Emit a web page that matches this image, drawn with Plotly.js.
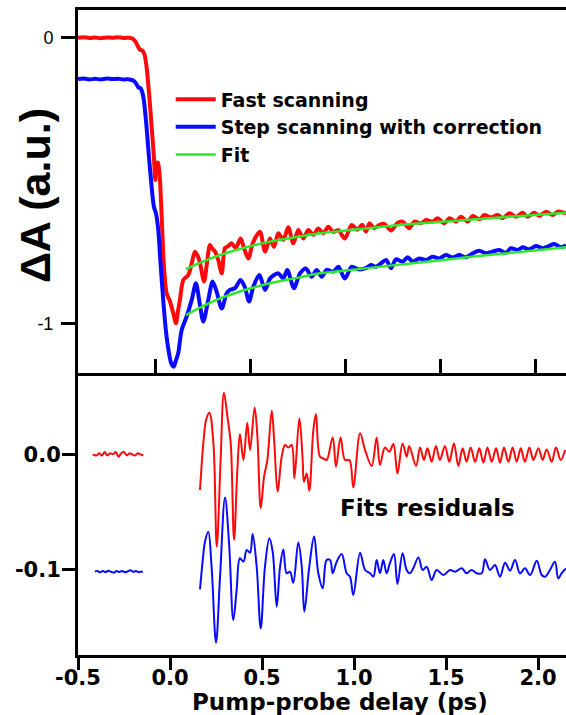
<!DOCTYPE html>
<html>
<head>
<meta charset="utf-8">
<script src="https://cdn.plot.ly/plotly-3.0.1.min.js"></script>
<style>html,body{margin:0;padding:0;background:#fff;}</style>
</head>
<body>
<div id="chart" style="width:566px;height:715px;"></div>
<script>
// ---------- Top panel: transient absorption (top-axis time, ps) ----------
const fastX = [-0.410,-0.380,-0.350,-0.320,-0.290,-0.260,-0.230,-0.200,-0.170,-0.140,-0.125,-0.110,-0.095,-0.085,-0.075,-0.068,-0.060,-0.050,-0.035,-0.023,-0.011,-0.004,0.003,0.010,0.015,0.021,0.030,0.042,0.056,0.074,0.091,0.105,0.115,0.126,0.144,0.170,0.188,0.205,0.220,0.232,0.253,0.268,0.284,0.298,0.311,0.328,0.346,0.363,0.380,0.398,0.420,0.445,0.465,0.486,0.509,0.547,0.574,0.600,0.621,0.644,0.670,0.696,0.723,0.749,0.775,0.802,0.828,0.854,0.880,0.907,0.933,0.960,0.994,1.030,1.060,1.085,1.105,1.123,1.149,1.175,1.202,1.237,1.272,1.298,1.333,1.360,1.395,1.421,1.456,1.482,1.518,1.544,1.579,1.605,1.640,1.667,1.702,1.728,1.763,1.798,1.825,1.860,1.895,1.930,1.956,1.991,2.018,2.053,2.088,2.114,2.158];
const fastY = [0.000,0.002,-0.001,0.001,-0.002,0.001,0.000,0.002,-0.001,0.000,-0.003,-0.012,-0.030,-0.042,-0.044,-0.048,-0.060,-0.100,-0.207,-0.312,-0.417,-0.498,-0.440,-0.437,-0.455,-0.498,-0.627,-0.802,-0.895,-0.924,-0.965,-1.000,-0.960,-0.918,-0.848,-0.831,-0.790,-0.749,-0.765,-0.790,-0.854,-0.790,-0.726,-0.740,-0.749,-0.779,-0.825,-0.737,-0.730,-0.720,-0.737,-0.703,-0.740,-0.773,-0.720,-0.679,-0.749,-0.703,-0.732,-0.685,-0.708,-0.664,-0.720,-0.673,-0.703,-0.673,-0.690,-0.668,-0.685,-0.662,-0.680,-0.674,-0.703,-0.656,-0.672,-0.655,-0.679,-0.650,-0.667,-0.656,-0.652,-0.675,-0.648,-0.644,-0.667,-0.644,-0.650,-0.638,-0.644,-0.632,-0.650,-0.632,-0.644,-0.627,-0.644,-0.624,-0.636,-0.621,-0.629,-0.621,-0.632,-0.615,-0.627,-0.613,-0.627,-0.613,-0.624,-0.609,-0.621,-0.609,-0.615];

const stepX = [-0.410,-0.380,-0.350,-0.320,-0.290,-0.260,-0.230,-0.200,-0.170,-0.140,-0.120,-0.105,-0.093,-0.081,-0.067,-0.053,-0.037,-0.023,-0.011,0.000,0.012,0.024,0.038,0.052,0.066,0.080,0.093,0.105,0.117,0.135,0.161,0.188,0.210,0.230,0.249,0.275,0.298,0.319,0.346,0.372,0.389,0.416,0.445,0.467,0.490,0.512,0.544,0.574,0.600,0.621,0.644,0.670,0.691,0.726,0.758,0.789,0.819,0.846,0.872,0.898,0.933,0.960,0.994,1.030,1.065,1.105,1.132,1.158,1.184,1.211,1.237,1.263,1.298,1.325,1.351,1.386,1.421,1.456,1.491,1.526,1.561,1.596,1.632,1.667,1.702,1.737,1.772,1.807,1.842,1.868,1.904,1.930,1.965,2.000,2.035,2.070,2.096,2.132,2.158];
const stepY = [-0.145,-0.143,-0.146,-0.144,-0.146,-0.143,-0.145,-0.144,-0.146,-0.146,-0.150,-0.160,-0.174,-0.177,-0.206,-0.288,-0.417,-0.522,-0.592,-0.615,-0.673,-0.790,-0.918,-1.024,-1.094,-1.140,-1.152,-1.130,-1.105,-1.024,-0.977,-0.918,-0.860,-0.930,-0.994,-0.918,-0.854,-0.889,-0.948,-0.895,-0.883,-0.877,-0.848,-0.872,-0.924,-0.872,-0.831,-0.883,-0.843,-0.831,-0.825,-0.843,-0.813,-0.877,-0.825,-0.808,-0.837,-0.813,-0.837,-0.813,-0.819,-0.802,-0.843,-0.802,-0.811,-0.807,-0.796,-0.802,-0.790,-0.778,-0.807,-0.776,-0.784,-0.769,-0.784,-0.773,-0.778,-0.767,-0.773,-0.761,-0.769,-0.761,-0.769,-0.755,-0.746,-0.755,-0.749,-0.743,-0.753,-0.737,-0.743,-0.734,-0.741,-0.729,-0.737,-0.729,-0.722,-0.734,-0.726];

const fitFastX = [0.158,0.250,0.337,0.450,0.600,0.750,0.863,1.000,1.232,1.400,1.632,1.900,2.158];
const fitFastY = [-0.810,-0.783,-0.761,-0.738,-0.714,-0.697,-0.685,-0.675,-0.659,-0.650,-0.638,-0.625,-0.613];
const fitStepX = [0.158,0.250,0.337,0.450,0.600,0.750,0.863,1.000,1.232,1.400,1.632,1.900,2.158];
const fitStepY = [-0.971,-0.939,-0.913,-0.887,-0.860,-0.840,-0.825,-0.815,-0.798,-0.786,-0.769,-0.751,-0.734];

// ---------- Bottom panel: fit residuals (ps) ----------
const resFastX = [-0.420,-0.400,-0.385,-0.370,-0.355,-0.340,-0.325,-0.310,-0.295,-0.280,-0.265,-0.250,-0.235,-0.220,-0.205,-0.190,-0.175,-0.160,-0.145,null,
 0.163,0.181,0.196,0.214,0.236,0.254,0.275,0.293,0.312,0.330,0.348,0.366,0.380,0.399,0.420,0.435,0.460,0.475,0.493,0.511,0.529,0.553,0.567,0.585,0.607,0.625,0.643,0.661,0.676,0.703,0.721,0.728,0.743,0.757,0.779,0.793,0.815,0.833,0.851,0.884,0.902,0.927,0.951,0.975,0.996,1.033,1.060,1.096,1.123,1.141,1.168,1.192,1.214,1.236,1.264,1.286,1.300,1.337,1.359,1.380,1.399,1.422,1.445,1.467,1.494,1.518,1.543,1.567,1.590,1.612,1.634,1.658,1.681,1.703,1.725,1.748,1.772,1.793,1.815,1.839,1.862,1.884,1.906,1.929,1.953,1.975,2.002,2.025,2.047,2.074,2.098,2.123,2.147];
const resFastY = [0.000,-0.001,0.001,-0.001,0.002,-0.001,0.001,0.000,0.002,-0.002,0.001,0.002,-0.001,0.001,0.000,-0.001,0.001,0.000,-0.001,null,
 -0.0309,0.0095,0.0297,0.0361,0.0095,-0.0800,-0.0049,0.0534,0.0326,0.0095,-0.0742,-0.0136,0.0176,-0.0049,0.0274,0.0037,0.0407,0.0153,-0.0468,-0.0194,-0.0049,0.0378,0.0095,-0.0324,-0.0020,0.0081,0.0060,0.0081,-0.0208,0.0312,-0.0049,-0.0237,-0.0165,-0.0315,0.0211,0.0349,-0.0020,-0.0035,-0.0049,0.0147,-0.0107,0.0147,-0.0049,-0.0049,-0.0286,0.0182,0.0037,-0.0101,0.0147,-0.0092,0.0060,0.0023,0.0089,-0.0165,0.0095,-0.0020,0.0072,-0.0101,0.0060,-0.0049,0.0052,-0.0064,0.0072,-0.0049,0.0072,-0.0064,0.0095,-0.0101,0.0052,-0.0064,0.0060,-0.0064,0.0052,-0.0072,0.0060,-0.0064,0.0052,-0.0072,0.0060,-0.0064,0.0060,-0.0064,0.0052,-0.0064,0.0060,-0.0049,0.0052,-0.0049,0.0043,-0.0064,0.0060,-0.0049,0.0037];

const resStepX = [-0.408,-0.395,-0.380,-0.365,-0.350,-0.335,-0.320,-0.305,-0.290,-0.275,-0.260,-0.245,-0.230,-0.215,-0.200,-0.185,-0.170,-0.158,-0.148,null,
 0.163,0.178,0.190,0.208,0.226,0.250,0.272,0.299,0.321,0.344,0.362,0.380,0.399,0.417,0.435,0.449,0.471,0.493,0.516,0.540,0.558,0.580,0.598,0.616,0.634,0.652,0.670,0.697,0.716,0.730,0.757,0.783,0.806,0.830,0.851,0.870,0.884,0.906,0.933,0.960,0.978,0.996,1.033,1.060,1.087,1.105,1.123,1.141,1.159,1.177,1.196,1.217,1.236,1.264,1.286,1.304,1.322,1.350,1.373,1.395,1.422,1.449,1.486,1.522,1.549,1.585,1.612,1.639,1.667,1.694,1.712,1.739,1.766,1.793,1.821,1.848,1.875,1.902,1.929,1.957,1.993,2.020,2.038,2.065,2.092,2.110,2.128,2.152];
const resStepY = [-0.1015,-0.1010,-0.1022,-0.1012,-0.1020,-0.1008,-0.1018,-0.1025,-0.1012,-0.1020,-0.1010,-0.1022,-0.1015,-0.1005,-0.1018,-0.1012,-0.1022,-0.1015,-0.1020,null,
 -0.1170,-0.0916,-0.0757,-0.0670,-0.0974,-0.1632,-0.1060,-0.0373,-0.0771,-0.1436,-0.1176,-0.0901,-0.0930,-0.0829,-0.0852,-0.0691,-0.0974,-0.1508,-0.0974,-0.0728,-0.0844,-0.1320,-0.0974,-0.0824,-0.1031,-0.1017,-0.1112,-0.0765,-0.0974,-0.1363,-0.0974,-0.0713,-0.1031,-0.1161,-0.0916,-0.0916,-0.1031,-0.0930,-0.0864,-0.1031,-0.1060,-0.1219,-0.0852,-0.1002,-0.1031,-0.1060,-0.0916,-0.1031,-0.0916,-0.1031,-0.0939,-0.0864,-0.1124,-0.0858,-0.1002,-0.1031,-0.0988,-0.0893,-0.1002,-0.0974,-0.1089,-0.1002,-0.1046,-0.1002,-0.1017,-0.0988,-0.1031,-0.1002,-0.1031,-0.1031,-0.0910,-0.1002,-0.0959,-0.1060,-0.0939,-0.1008,-0.0916,-0.1031,-0.0988,-0.1046,-0.0922,-0.1046,-0.1060,-0.1002,-0.0930,-0.1075,-0.1031,-0.0988];

// ---------- Ticks and labels ----------
const bottomTickVals = [-0.5,0,0.5,1,1.5,2];
const bottomTickText = ['-0.5','0.0','0.5','1.0','1.5','2.0'];
const topTickVals = [0,0.5,1,1.5,2];
const resTickVals = [0,-0.1];
const resTickText = ['0.0','-0.1'];
const absTickVals = [0,-1];
const absTickText = ['0','-1'];
const seriesNames = ['Fast scanning','Step scanning with correction','Fit'];

const RED = '#ff0a0a', BLUE = '#0a0aff', GREEN = '#2ee82e';
const BOLD_WIDE = {family:'DejaVu Sans, sans-serif', weight:'bold', color:'#000'};

const traces = [
  {x:fastX, y:fastY, xaxis:'x2', yaxis:'y2', mode:'lines', name:seriesNames[0],
   line:{color:RED, width:4, shape:'spline', smoothing:0.8}},
  {x:stepX, y:stepY, xaxis:'x2', yaxis:'y2', mode:'lines', name:seriesNames[1],
   line:{color:BLUE, width:4, shape:'spline', smoothing:0.8}},
  {x:fitFastX, y:fitFastY, xaxis:'x2', yaxis:'y2', mode:'lines', name:seriesNames[2],
   line:{color:GREEN, width:2.5, shape:'spline'}},
  {x:fitStepX, y:fitStepY, xaxis:'x2', yaxis:'y2', mode:'lines', name:seriesNames[2], showlegend:false,
   line:{color:GREEN, width:2.5, shape:'spline'}},
  {x:resFastX, y:resFastY, xaxis:'x', yaxis:'y', mode:'lines', showlegend:false, connectgaps:false,
   line:{color:RED, width:2, shape:'spline', smoothing:1}},
  {x:resStepX, y:resStepY, xaxis:'x', yaxis:'y', mode:'lines', showlegend:false, connectgaps:false,
   line:{color:BLUE, width:2, shape:'spline', smoothing:1}}
];

const splitY = 0.4372;
const axisCommon = {showgrid:false, zeroline:false, showline:true, linewidth:3, linecolor:'#000',
  tickwidth:3, tickcolor:'#000', fixedrange:true};

const layout = {
  width:566, height:715,
  margin:{l:78, r:0, t:10, b:60, pad:0},
  paper_bgcolor:'#fff', plot_bgcolor:'#fff',
  showlegend:true,
  legend:{x:0.19, y:0.891, xanchor:'left', yanchor:'top', bgcolor:'rgba(0,0,0,0)',
    font:{family:'DejaVu Sans, sans-serif', size:19, weight:'bold', color:'#000'},
    itemwidth:40, tracegroupgap:0, borderwidth:0},
  xaxis: Object.assign({}, axisCommon, {domain:[0,1], range:[-0.5,2.152], anchor:'y',
    tickmode:'array', tickvals:bottomTickVals, ticktext:bottomTickText,
    ticks:'outside', ticklen:12, ticklabelstandoff:-10, tickfont:Object.assign({size:21}, BOLD_WIDE)}),
  yaxis: Object.assign({}, axisCommon, {domain:[0,splitY], range:[-0.1739,0.0705], anchor:'x',
    tickmode:'array', tickvals:resTickVals, ticktext:resTickText,
    ticks:'outside', ticklen:13, ticklabelstandoff:-3, tickfont:Object.assign({size:21}, BOLD_WIDE)}),
  xaxis2: Object.assign({}, axisCommon, {domain:[0,1], range:[-0.4105,2.158], anchor:'y2',
    tickmode:'array', tickvals:topTickVals, showticklabels:false, mirror:true,
    ticks:'inside', ticklen:14}),
  yaxis2: Object.assign({}, axisCommon, {domain:[splitY,1], range:[-1.174,0.097], anchor:'x2',
    tickmode:'array', tickvals:absTickVals, ticktext:absTickText,
    ticks:'outside', ticklen:14, ticklabelstandoff:4,
    tickfont:{family:'Liberation Sans, Arial, sans-serif', size:18, color:'#000'}}),
  annotations:[
    {text:'ΔA (a.u.)', xref:'paper', yref:'paper', x:-0.088, y:0.7116, xanchor:'center', yanchor:'middle',
     textangle:-90, showarrow:false,
     font:{family:'Liberation Sans, Arial, sans-serif', size:43, weight:'bold', color:'#000'}},
    {text:'Pump-probe delay (ps)', xref:'paper', yref:'paper', x:0.537, y:-0.0729, xanchor:'center', yanchor:'middle',
     showarrow:false, font:Object.assign({size:23}, BOLD_WIDE)},
    {text:'Fits residuals', xref:'x', yref:'y', x:1.397, y:-0.0465, xanchor:'center', yanchor:'middle',
     showarrow:false, font:Object.assign({size:23}, BOLD_WIDE)}
  ]
};

Plotly.newPlot('chart', traces, layout, {displayModeBar:false, staticPlot:true});
</script>
</body>
</html>
